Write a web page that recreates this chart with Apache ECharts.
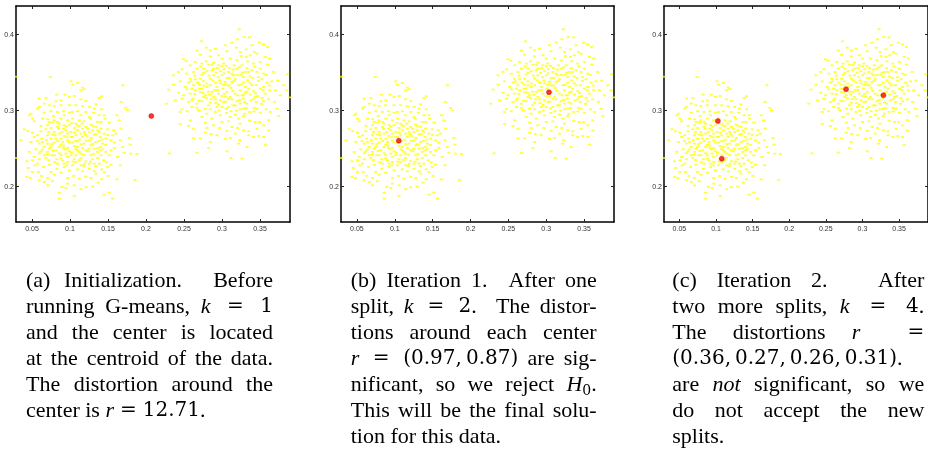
<!DOCTYPE html>
<html>
<head>
<meta charset="utf-8">
<script src="https://cdn.jsdelivr.net/npm/echarts@6/dist/echarts.min.js"></script>
<style>
  html, body { margin: 0; padding: 0; background: #fff; }
  #chart { width: 928px; height: 454px; }
</style>
</head>
<body>
<div id="chart"></div>
<script>
// axis ranges and tick values (same for the three panels)
const xRange = [0.029, 0.3895];
const yRange = [0.1535, 0.4377];
const xTicks = [0.05, 0.1, 0.15, 0.2, 0.25, 0.3, 0.35];
const yTicks = [0.2, 0.3, 0.4];

// data points, lower-left cloud
const leftCloud = [
  [0.0741,0.3443],[0.1013,0.3386],[0.1100,0.3364],[0.1035,0.3343],[0.1166,0.3303],[0.1188,0.3281],
  [0.1144,0.3268],[0.1697,0.3334],[0.0824,0.3211],[0.0934,0.3211],[0.0991,0.3180],[0.1057,0.3193],
  [0.0596,0.3158],[0.0684,0.3167],[0.1416,0.3189],[0.1385,0.3167],[0.0881,0.3136],[0.0815,0.3123],
  [0.1144,0.3149],[0.1210,0.3127],[0.1342,0.3084],[0.1671,0.3115],[0.0728,0.3071],[0.0793,0.3062],
  [0.0596,0.3049],[0.0881,0.3071],[0.1078,0.3071],[0.1166,0.3058],[0.1254,0.3049],[0.1416,0.3018],
  [0.1736,0.3036],[0.1758,0.3005],[0.0574,0.3027],[0.0487,0.2961],[0.0464,0.2939],[0.0662,0.2974],
  [0.0749,0.2992],[0.0837,0.2983],[0.0916,0.2992],[0.0991,0.2974],[0.1100,0.2992],[0.1210,0.2983],
  [0.1311,0.2974],[0.1385,0.2939],[0.1451,0.2939],[0.1618,0.2939],[0.0530,0.2860],[0.0640,0.2895],
  [0.0706,0.2886],[0.0793,0.2873],[0.0881,0.2895],[0.0969,0.2873],[0.1035,0.2895],[0.1122,0.2873],
  [0.1188,0.2860],[0.1267,0.2895],[0.1364,0.2851],[0.1517,0.2843],[0.1460,0.2895],[0.0399,0.2755],
  [0.0443,0.2729],[0.0508,0.2711],[0.0618,0.2729],[0.0684,0.2755],[0.0749,0.2772],[0.0837,0.2786],
  [0.0916,0.2764],[0.0991,0.2808],[0.1057,0.2772],[0.1122,0.2799],[0.1210,0.2786],[0.1276,0.2816],
  [0.1342,0.2786],[0.1407,0.2764],[0.1495,0.2755],[0.1574,0.2742],[0.1605,0.2698],[0.1671,0.2764],
  [0.0355,0.2610],[0.0530,0.2654],[0.0627,0.2632],[0.0706,0.2676],[0.0771,0.2685],[0.0859,0.2698],
  [0.0925,0.2667],[0.1013,0.2720],[0.1078,0.2676],[0.1144,0.2698],[0.1223,0.2667],[0.1320,0.2685],
  [0.1399,0.2654],[0.1451,0.2698],[0.1561,0.2676],[0.1780,0.2641],[0.0640,0.2588],[0.0706,0.2566],
  [0.0793,0.2579],[0.0881,0.2553],[0.0969,0.2610],[0.1035,0.2579],[0.1100,0.2597],[0.1188,0.2566],
  [0.1254,0.2610],[0.1342,0.2588],[0.1429,0.2566],[0.1583,0.2579],[0.1662,0.2610],[0.1793,0.2553],
  [0.0552,0.2492],[0.0618,0.2465],[0.0728,0.2500],[0.0815,0.2478],[0.0916,0.2509],[0.0991,0.2465],
  [0.1078,0.2492],[0.1166,0.2509],[0.1241,0.2465],[0.1320,0.2500],[0.1399,0.2478],[0.1473,0.2457],
  [0.1714,0.2448],[0.1802,0.2435],[0.1881,0.2430],[0.0434,0.2334],[0.0530,0.2391],[0.0596,0.2360],
  [0.0684,0.2378],[0.0758,0.2413],[0.0828,0.2360],[0.0903,0.2343],[0.0969,0.2391],[0.1057,0.2360],
  [0.1144,0.2378],[0.1210,0.2334],[0.1298,0.2360],[0.1364,0.2378],[0.1442,0.2347],[0.1539,0.2290],
  [0.1627,0.2391],[0.0451,0.2246],[0.0539,0.2281],[0.0653,0.2259],[0.0728,0.2290],[0.0828,0.2237],
  [0.0925,0.2259],[0.1035,0.2281],[0.1100,0.2228],[0.1179,0.2272],[0.1254,0.2237],[0.1320,0.2202],
  [0.1416,0.2228],[0.1495,0.2259],[0.0434,0.2128],[0.0478,0.2114],[0.0583,0.2193],[0.0627,0.2141],
  [0.0706,0.2114],[0.0793,0.2158],[0.0881,0.2185],[0.0969,0.2114],[0.1048,0.2141],[0.1166,0.2202],
  [0.1210,0.2128],[0.1342,0.2172],[0.1416,0.2097],[0.1504,0.2141],[0.1618,0.2097],[0.1855,0.2088],
  [0.0662,0.2062],[0.0771,0.2071],[0.0894,0.1996],[0.0947,0.1983],[0.1057,0.2018],[0.1144,0.1966],
  [0.1210,0.1992],[0.1372,0.2053],[0.0859,0.1922],[0.1057,0.1878],[0.0859,0.1843],[0.1451,0.1895],
  [0.1517,0.1922],[0.1561,0.1843],[0.0295,0.3447],[0.0295,0.2377],
  [0.0947,0.2742],[0.1013,0.2654],[0.1100,0.2742],[0.1166,0.2654],[0.1254,0.2720],[0.0881,0.2632],
  [0.1057,0.2535],[0.1122,0.2457],[0.0947,0.2435],[0.1276,0.2413],[0.0793,0.2413],[0.1364,0.2505],
  [0.0749,0.2632],[0.1320,0.2303],[0.1144,0.2281],[0.0969,0.2325],[0.0859,0.2522],[0.1210,0.2478],
  [0.1013,0.2413],[0.1407,0.2413],[0.0662,0.2413],[0.0793,0.2720],[0.1407,0.2851],[0.1035,0.2983],
  [0.0925,0.2939],
  [0.0784,0.2930],[0.0859,0.2829],[0.0925,0.2808],[0.1078,0.2829],[0.1166,0.2764],[0.1298,0.2742],
  [0.1385,0.2720],[0.1473,0.2632],[0.1539,0.2610],[0.1583,0.2509],[0.1517,0.2413],[0.0574,0.2303],
  [0.0508,0.2193],[0.0749,0.2193],[0.0991,0.2215],[0.1122,0.2106],[0.1276,0.2114],[0.1451,0.2193],
  [0.0815,0.2632],[0.0903,0.2588],[0.0969,0.2509],[0.1035,0.2654],[0.1100,0.2522],[0.1276,0.2544],
  [0.1364,0.2457],[0.1429,0.2492],[0.1144,0.2435],[0.1078,0.2413],[0.0881,0.2413],[0.0706,0.2457],
  [0.0662,0.2522],[0.0749,0.2522],[0.0596,0.2566],[0.0574,0.2676],[0.0487,0.2588],[0.0464,0.2457],
  [0.0508,0.2347],[0.0837,0.2303],[0.0925,0.2303],[0.1078,0.2325],[0.1254,0.2303],[0.1385,0.2303],
  [0.0969,0.2698],[0.1188,0.2720],[0.0837,0.2851],[0.0706,0.2808],[0.0728,0.2851],[0.1144,0.2939],
  [0.1254,0.2917],[0.1320,0.3027],[0.0991,0.3071],[0.0662,0.3093],[0.0508,0.2895],[0.1649,0.2873],
  [0.1693,0.2522],[0.1662,0.2281],[0.1298,0.2000],[0.0969,0.2040],[0.0706,0.2018],[0.0596,0.2084],
  [0.0775,0.2846],[0.0850,0.2760],[0.0950,0.2790],[0.1025,0.2835],[0.1095,0.2805],[0.1160,0.2830],
  [0.1235,0.2760],[0.1300,0.2800],[0.1365,0.2740],[0.0720,0.2720],[0.0805,0.2675],[0.0895,0.2720],
  [0.0960,0.2650],[0.1060,0.2710],[0.1130,0.2620],[0.1200,0.2690],[0.1280,0.2640],[0.1345,0.2690],
  [0.1420,0.2620],[0.0690,0.2610],[0.0760,0.2560],[0.0840,0.2600],[0.0915,0.2540],[0.0990,0.2580],
  [0.1070,0.2600],[0.1145,0.2560],[0.1215,0.2600],[0.1300,0.2560],[0.1380,0.2600],[0.1470,0.2550],
  [0.0640,0.2490],[0.0700,0.2420],[0.0780,0.2470],[0.0860,0.2440],[0.0940,0.2490],[0.1020,0.2450],
  [0.1100,0.2480],[0.1180,0.2420],[0.1250,0.2500],[0.1310,0.2430],[0.1400,0.2520],[0.0720,0.2350],
  [0.0800,0.2320],[0.0880,0.2370],[0.0960,0.2280],[0.1040,0.2330],[0.1120,0.2350],[0.1190,0.2300],
  [0.1270,0.2330],[0.1340,0.2270],[0.0600,0.2440],[0.0570,0.2600],[0.0620,0.2800],[0.1500,0.2680],
  [0.1540,0.2480],[0.1480,0.2320]
];

// upper-right cloud
const rightCloud = [
  [0.3227,0.4071],[0.3293,0.3970],[0.3363,0.3965],[0.3206,0.3939],[0.2727,0.3913],[0.3491,0.3895],
  [0.3548,0.3873],[0.3600,0.3838],[0.3043,0.3860],[0.2793,0.3829],[0.2670,0.3790],[0.2714,0.3737],
  [0.3065,0.3781],[0.3188,0.3829],[0.3320,0.3807],[0.3425,0.3772],[0.3460,0.3750],[0.3372,0.3728],
  [0.2846,0.3715],[0.2956,0.3728],[0.3254,0.3720],[0.3320,0.3706],[0.3570,0.3706],[0.3627,0.3685],
  [0.2495,0.3676],[0.2530,0.3654],[0.2649,0.3641],[0.2793,0.3649],[0.2824,0.3606],[0.2890,0.3632],
  [0.2956,0.3597],[0.3000,0.3584],[0.3096,0.3562],[0.3162,0.3597],[0.3263,0.3597],[0.3337,0.3649],
  [0.3504,0.3641],[0.3600,0.3606],[0.2429,0.3509],[0.2473,0.3544],[0.2539,0.3487],[0.2627,0.3509],
  [0.2736,0.3474],[0.2802,0.3518],[0.2868,0.3531],[0.2925,0.3500],[0.2978,0.3518],[0.3030,0.3544],
  [0.3087,0.3509],[0.3131,0.3487],[0.3197,0.3553],[0.3249,0.3474],[0.3394,0.3531],[0.3460,0.3509],
  [0.3504,0.3553],[0.2363,0.3342],[0.2298,0.3277],[0.2451,0.3386],[0.2561,0.3369],[0.2592,0.3386],
  [0.2649,0.3413],[0.2706,0.3342],[0.2758,0.3386],[0.2802,0.3356],[0.2846,0.3421],[0.2912,0.3369],
  [0.2969,0.3399],[0.3021,0.3342],[0.3065,0.3430],[0.3131,0.3378],[0.3175,0.3413],[0.3219,0.3334],
  [0.3285,0.3369],[0.3337,0.3399],[0.3407,0.3430],[0.3451,0.3334],[0.3526,0.3413],[0.3592,0.3369],
  [0.3657,0.3386],[0.3732,0.3395],[0.3811,0.3334],[0.3855,0.3268],[0.2429,0.3237],[0.2495,0.3202],
  [0.2583,0.3224],[0.2649,0.3268],[0.2706,0.3290],[0.2749,0.3237],[0.2802,0.3312],[0.2837,0.3211],
  [0.2899,0.3268],[0.2956,0.3224],[0.3013,0.3290],[0.3065,0.3246],[0.3118,0.3299],[0.3175,0.3224],
  [0.3241,0.3268],[0.3306,0.3237],[0.3350,0.3290],[0.3416,0.3255],[0.3469,0.3193],[0.3570,0.3224],
  [0.3627,0.3268],[0.2267,0.3092],[0.2473,0.3158],[0.2561,0.3114],[0.2605,0.3136],[0.2670,0.3092],
  [0.2736,0.3123],[0.2793,0.3167],[0.2846,0.3106],[0.2912,0.3149],[0.2956,0.3079],[0.3021,0.3114],
  [0.3087,0.3158],[0.3144,0.3070],[0.3197,0.3123],[0.3276,0.3158],[0.3328,0.3092],[0.3381,0.3136],
  [0.3451,0.3114],[0.3548,0.3123],[0.3614,0.3149],[0.3688,0.3114],[0.2473,0.3018],[0.2539,0.2992],
  [0.2670,0.3035],[0.2692,0.3005],[0.2846,0.3018],[0.2912,0.2983],[0.3000,0.3049],[0.3056,0.3027],
  [0.3118,0.2992],[0.3175,0.2948],[0.3241,0.3018],[0.3320,0.3035],[0.3363,0.2983],[0.3425,0.3035],
  [0.3504,0.2974],[0.3583,0.3018],[0.2451,0.2825],[0.2780,0.2842],[0.2868,0.2895],[0.2890,0.2807],
  [0.3087,0.2860],[0.3109,0.2917],[0.3219,0.2895],[0.3285,0.2930],[0.3363,0.2869],[0.3438,0.2851],
  [0.3495,0.2851],[0.3614,0.2873],[0.3745,0.2930],[0.2561,0.2799],[0.2627,0.2763],[0.2802,0.2772],
  [0.2969,0.2772],[0.3065,0.2733],[0.3206,0.2772],[0.3350,0.2728],[0.3460,0.2763],[0.3614,0.2737],
  [0.2780,0.2711],[0.2855,0.2693],[0.3109,0.2641],[0.3232,0.2610],[0.3350,0.2676],[0.3416,0.2654],
  [0.2627,0.2636],[0.2714,0.2636],[0.2846,0.2588],[0.3219,0.2566],[0.3482,0.2667],[0.2824,0.2509],
  [0.3065,0.2465],[0.3328,0.2522],[0.3570,0.2553],[0.2670,0.2448],[0.2311,0.2439],[0.3118,0.2378],
  [0.3263,0.2369],[0.3864,0.3482],[0.3890,0.3175],
  [0.2934,0.3312],[0.2868,0.3246],[0.3000,0.3193],[0.2758,0.3180],[0.3285,0.3202],[0.3372,0.3211],
  [0.3043,0.3378],[0.2890,0.3465],[0.3153,0.3465],[0.2714,0.3246],[0.3109,0.3180],[0.2978,0.3136],
  [0.2824,0.3070],[0.3241,0.3092],[0.2627,0.3334],[0.3504,0.3290],[0.3306,0.3509],[0.3021,0.3619],
  [0.2758,0.3553],[0.2890,0.3553],[0.3000,0.3465],[0.3285,0.3443],[0.3350,0.3509],[0.3548,0.3487],
  [0.2714,0.3421],[0.2517,0.3312],[0.2605,0.3290],[0.2780,0.3202],[0.2890,0.3180],[0.3043,0.3180],
  [0.3263,0.3202],[0.3438,0.3180],[0.3526,0.3167],[0.3175,0.3070],[0.3087,0.3049],[0.2934,0.3049],
  [0.2780,0.3027],[0.2605,0.3049],[0.3285,0.3027],[0.3460,0.3027],[0.3635,0.2983],[0.2978,0.2939],
  [0.2736,0.2917],[0.3241,0.2829],[0.3000,0.2851],[0.3548,0.2807],[0.3131,0.2785],[0.3285,0.2742],
  [0.2934,0.2676],[0.3043,0.2632],[0.3175,0.2698],[0.3548,0.2654],[0.2583,0.2873],[0.2385,0.3136],
  [0.2363,0.3465],[0.2583,0.3597],[0.2736,0.3619],[0.3109,0.3685],[0.3197,0.3663],[0.3416,0.3619],
  [0.3679,0.3509],[0.3701,0.3268],[0.3767,0.3202],[0.3723,0.3027],[0.2912,0.3816],[0.3131,0.3895],
  [0.3394,0.3860],[0.3241,0.3772],[0.2846,0.3794],[0.3000,0.3685],[0.2670,0.3553],[0.3065,0.3334],
  [0.2846,0.3334],[0.3394,0.3334],[0.3306,0.3312],[0.3548,0.3312],[0.2451,0.2983],
  [0.2720,0.3580],[0.2870,0.3600],[0.2940,0.3560],[0.3060,0.3590],[0.3150,0.3540],[0.3230,0.3570],
  [0.3330,0.3560],[0.3430,0.3580],[0.2640,0.3460],[0.2760,0.3500],[0.2830,0.3460],[0.2950,0.3440],
  [0.3030,0.3490],[0.3100,0.3430],[0.3200,0.3470],[0.3270,0.3500],[0.3370,0.3450],[0.3480,0.3440],
  [0.3580,0.3470],[0.2580,0.3420],[0.2680,0.3370],[0.2760,0.3330],[0.2880,0.3400],[0.2980,0.3360],
  [0.3100,0.3330],[0.3160,0.3390],[0.3250,0.3340],[0.3370,0.3360],[0.3480,0.3390],[0.3620,0.3330],
  [0.2540,0.3280],[0.2640,0.3220],[0.2730,0.3290],[0.2820,0.3250],[0.2940,0.3270],[0.3030,0.3220],
  [0.3140,0.3260],[0.3210,0.3200],[0.3330,0.3250],[0.3440,0.3230],[0.3540,0.3270],[0.2620,0.3160],
  [0.2700,0.3130],[0.2860,0.3150],[0.2920,0.3100],[0.3050,0.3120],[0.3130,0.3150],[0.3230,0.3140],
  [0.3300,0.3110],[0.3420,0.3150],[0.3520,0.3090],[0.2700,0.3000],[0.2800,0.2960],[0.2960,0.3000],
  [0.3060,0.2970],[0.3190,0.3000],[0.3300,0.2960],[0.3420,0.2990]
];

// cluster centers for each step
const centersA = [[0.207, 0.293]];
const centersB = [[0.1053, 0.2605], [0.3036, 0.3242]];
const centersC = [[0.1026, 0.2864], [0.1079, 0.2368], [0.2776, 0.3282], [0.3286, 0.3203]];

// caption lines: {i|..} italic, {m|..} math roman, {s|..} subscript,
// two spaces = end of sentence, \u2009 = fixed thin space inside math
const captionA = [
  '(a) Initialization.  Before',
  'running G-means, {i|k} {m|=} {m|1}',
  'and the center is located',
  'at the centroid of the data.',
  'The distortion around the',
  'center is {i|r} {m|=} {m|12.71}.'
];
const captionB = [
  '(b) Iteration 1.  After one',
  'split, {i|k} {m|=} {m|2}.  The distor-',
  'tions around each center',
  '{i|r} {m|=} {m|(0.97,\u20090.87)} are sig-',
  'nificant, so we reject {i|H}{s|0}.',
  'This will be the final solu-',
  'tion for this data.'
];
const captionC = [
  '(c) Iteration 2.  After',
  'two more splits, {i|k} {m|=} {m|4}.',
  'The distortions {i|r} {m|=}',
  '{m|(0.36,\u20090.27,\u20090.26,\u20090.31)}.',
  'are {i|not} significant, so we',
  'do not accept the new',
  'splits.'
];

const points = leftCloud.concat(rightCloud);
const panels = [
  { left: 16, width: 274, centers: centersA, caption: captionA, capX: 26, capW: 247, loose: [] },
  { left: 341, width: 273, centers: centersB, caption: captionB, capX: 350.7, capW: 246, loose: [] },
  { left: 664, width: 274, centers: centersC, caption: captionC, capX: 672.3, capW: 252, loose: [3] }
];

const FONT = '"Liberation Serif", "Times New Roman", serif';
const MATH = '"DejaVu Serif", serif';
const SIZE = 22;
const MSIZE = 20;
const LINE = 26;
const FIRST_LINE_Y = 281;

const measureCtx = document.createElement('canvas').getContext('2d');

function fontFor(kind) {
  if (kind === 'i') return 'italic ' + SIZE + 'px ' + FONT;
  if (kind === 'm') return MSIZE + 'px ' + MATH;
  if (kind === 's') return '14px ' + MATH;
  return SIZE + 'px ' + FONT;
}

function segments(word) {
  const out = [];
  const re = /\{(\w)\|([^}]*)\}/g;
  let last = 0, m;
  while ((m = re.exec(word))) {
    if (m.index > last) out.push(['n', word.slice(last, m.index)]);
    out.push([m[1], m[2]]);
    last = re.lastIndex;
  }
  if (last < word.length) out.push(['n', word.slice(last)]);
  return out;
}

function plainOf(word) {
  return segments(word).map(seg => seg[1]).join('');
}

function wordWidth(word) {
  return segments(word).reduce((s, seg) => {
    measureCtx.font = fontFor(seg[0]);
    return s + measureCtx.measureText(seg[1]).width;
  }, 0);
}

function richOf(word) {
  return segments(word).map(seg => '{' + seg[0] + '|' + seg[1] + '}').join('');
}

const richStyles = {
  n: { fontFamily: FONT, fontSize: SIZE, lineHeight: LINE, color: '#000' },
  i: { fontFamily: FONT, fontSize: SIZE, fontStyle: 'italic', lineHeight: LINE, color: '#000' },
  m: { fontFamily: MATH, fontSize: MSIZE, lineHeight: LINE, color: '#000' },
  s: { fontFamily: MATH, fontSize: 14, lineHeight: LINE, verticalAlign: 'bottom', color: '#000' }
};

// one text element per word, spread like justified TeX lines
function captionElements(p) {
  const els = [];
  p.caption.forEach((line, li) => {
    const parts = line.split(/( {2,}| )/);
    const words = parts.filter((_, k) => k % 2 === 0);
    const seps = parts.filter((_, k) => k % 2 === 1);
    const widths = words.map(wordWidth);
    const gaps = seps.map((sep, k) => {
      if (sep.length > 1) return { base: 7, stretch: 3 };
      if (plainOf(words[k]) === '=' || plainOf(words[k + 1]) === '=') return { base: 6, stretch: 2 };
      return { base: 5.5, stretch: 1 };
    });
    const justify = li < p.caption.length - 1 && p.loose.indexOf(li) < 0 && gaps.length > 0;
    let t = 0;
    if (justify) {
      const used = widths.reduce((a, b) => a + b, 0) + gaps.reduce((a, g) => a + g.base, 0);
      t = (p.capW - used) / gaps.reduce((a, g) => a + g.stretch, 0);
    }
    let x = p.capX;
    words.forEach((w, k) => {
      els.push({
        type: 'text',
        x: x,
        y: FIRST_LINE_Y + li * LINE,
        silent: true,
        style: {
          text: richOf(w),
          rich: richStyles,
          align: 'left',
          verticalAlign: 'middle'
        }
      });
      if (k < gaps.length) x += widths[k] + gaps[k].base + gaps[k].stretch * t;
    });
  });
  return els;
}

function xAxisFor(gi, pos) {
  return {
    type: 'value', gridIndex: gi, position: pos,
    min: xRange[0], max: xRange[1],
    axisLine: { show: true, onZero: false, lineStyle: { color: '#000', width: 1.5 } },
    axisTick: { show: true, inside: true, length: 3, customValues: xTicks, lineStyle: { color: '#222', width: 1 } },
    axisLabel: {
      show: pos === 'bottom', customValues: xTicks, margin: 4,
      fontSize: 7, fontFamily: 'Liberation Sans, Arial, sans-serif', color: '#333',
      formatter: v => String(+v.toFixed(2))
    },
    splitLine: { show: false }
  };
}

function yAxisFor(gi, pos) {
  return {
    type: 'value', gridIndex: gi, position: pos,
    min: yRange[0], max: yRange[1],
    axisLine: { show: true, onZero: false, lineStyle: { color: '#000', width: 1.5 } },
    axisTick: { show: true, inside: true, length: 3, customValues: yTicks, lineStyle: { color: '#222', width: 1 } },
    axisLabel: {
      show: pos === 'left', customValues: yTicks, margin: 2,
      fontSize: 7, fontFamily: 'Liberation Sans, Arial, sans-serif', color: '#333',
      formatter: v => String(+v.toFixed(2))
    },
    splitLine: { show: false }
  };
}

const grids = [], xAxes = [], yAxes = [], series = [];
let graphics = [];
panels.forEach((p, i) => {
  grids.push({ left: p.left, top: 6, width: p.width, height: 216 });
  xAxes.push(xAxisFor(i, 'bottom'), xAxisFor(i, 'top'));
  yAxes.push(yAxisFor(i, 'left'), yAxisFor(i, 'right'));
  series.push({
    type: 'scatter', xAxisIndex: 2 * i, yAxisIndex: 2 * i,
    data: points, symbol: 'rect', symbolSize: [3, 1.8],
    itemStyle: { color: '#ffff00' }, silent: true, clip: true
  });
  series.push({
    type: 'scatter', xAxisIndex: 2 * i, yAxisIndex: 2 * i,
    data: p.centers, symbol: 'circle', symbolSize: 5,
    itemStyle: { color: '#ff0000', borderColor: '#c00000', borderWidth: 0.5 },
    silent: true, z: 5
  });
  graphics = graphics.concat(captionElements(p));
});

const chart = echarts.init(document.getElementById('chart'), null, { renderer: 'canvas' });
chart.setOption({
  animation: false,
  backgroundColor: '#fff',
  grid: grids,
  xAxis: xAxes,
  yAxis: yAxes,
  series: series,
  graphic: graphics
});
</script>
</body>
</html>
